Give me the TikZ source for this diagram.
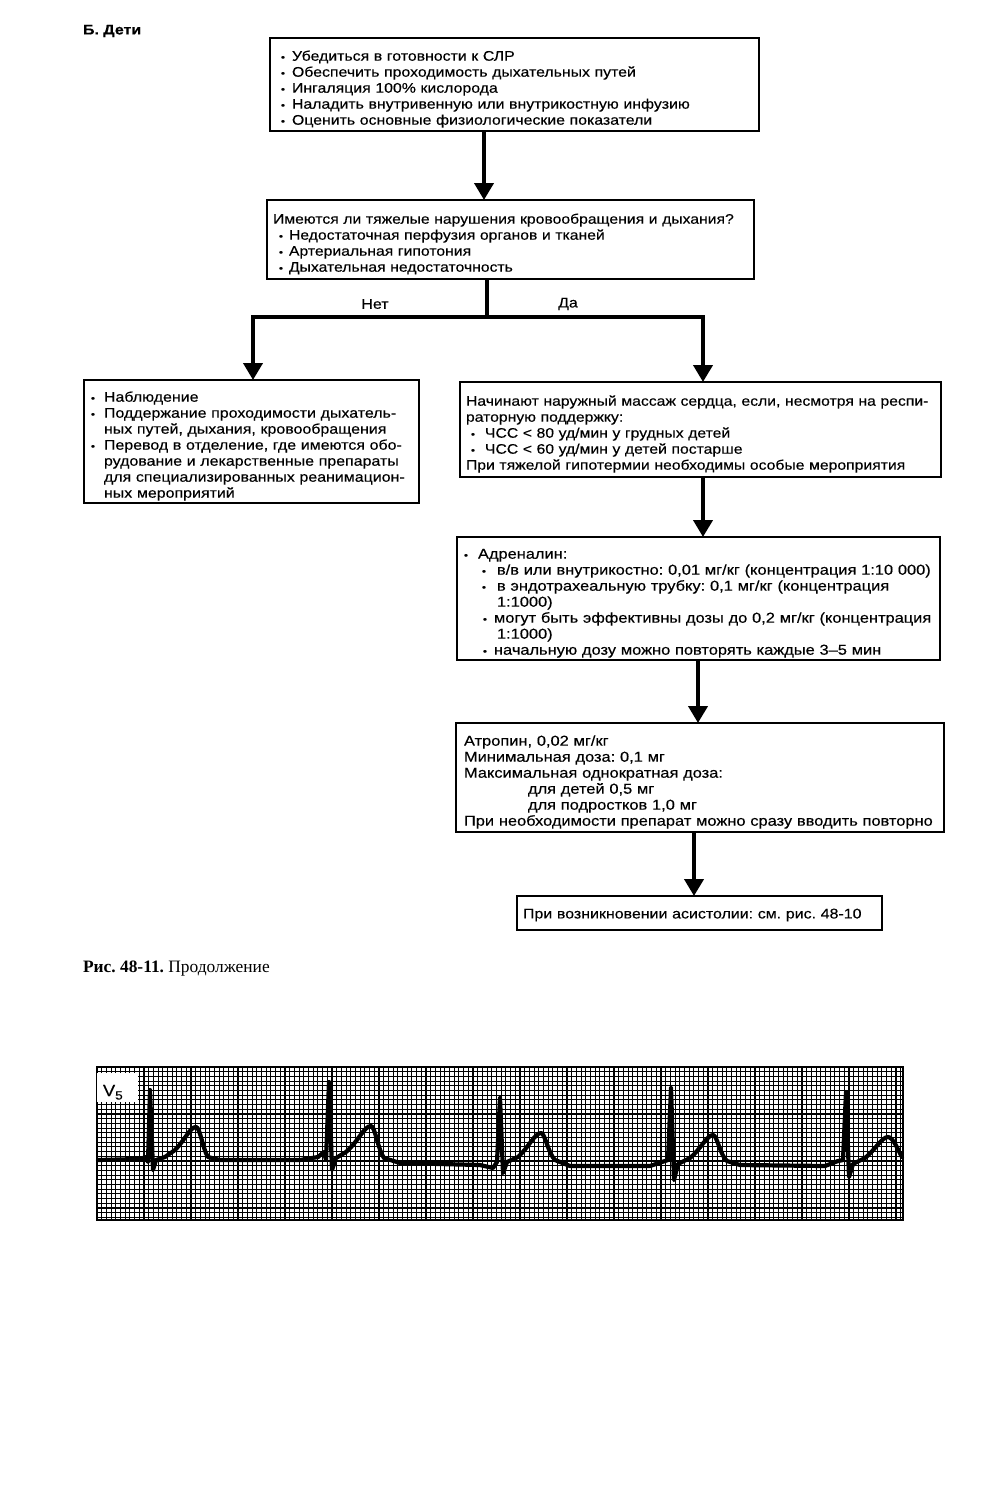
\documentclass[tikz,border=0pt]{standalone}
\usepackage{fontspec}
\setmainfont{Liberation Sans}
\newfontfamily\boxfont[FakeStretch=1.14,FakeBold=0.3]{Liberation Sans}
\newfontfamily\capfont{Liberation Serif}
\usetikzlibrary{arrows.meta}
\frenchspacing
\newcommand\boxtxt{\boxfont\fontsize{14}{16}\selectfont\frenchspacing}
\newcommand\fbul[1][11pt]{\makebox[#1][l]{{\fontsize{10}{10}\selectfont •}}}
\newcommand\boxlines[1]{\raisebox{-5pt}[\height][\depth]{\begin{tabular}{@{}l@{}}#1\end{tabular}}}
\begin{document}
\begin{tikzpicture}[x=1pt,y=-1pt,
  every node/.style={outer sep=0pt},
  box/.style={draw, line width=1.3pt, anchor=north west, align=left, inner ysep=0pt, font=\boxtxt},
  conn/.style={line width=4pt},
  arr/.style={line width=4pt, -{Triangle[width=19pt,length=17pt]}},
  lbl/.style={font=\boxtxt, inner sep=0pt},
  gridminor/.style={line width=0.85pt},
  gridmajor/.style={line width=1.6pt},
  ecg/.style={line width=4.2pt, line join=round, line cap=round}]
\useasboundingbox (0,0) rectangle (998,1496);

% title
\node[anchor=west, inner sep=0pt, font={\boxfont\bfseries\fontsize{14}{16}\selectfont}] (title) at (83,31) {Б. Дети};

% boxes
\node[box, minimum width=489pt, minimum height=93pt, text width=467pt, inner xsep=11pt, font={\boxfont\fontsize{13.9}{16}\selectfont}] (b1) at (270,38) {%
\boxlines{%
\fbul Убедиться в готовности к СЛР\\
\fbul Обеспечить проходимость дыхательных путей\\
\fbul Ингаляция 100\% кислорода\\
\fbul Наладить внутривенную или внутрикостную инфузию\\
\fbul Оценить основные физиологические показатели}};

\node[box, minimum width=487pt, minimum height=79pt, text width=475pt, inner xsep=6pt, font={\boxfont\fontsize{13.8}{16}\selectfont}] (b2) at (267,200) {%
\boxlines{%
Имеются ли тяжелые нарушения кровообращения и дыхания?\\
\hspace*{6pt}\fbul[10pt]Недостаточная перфузия органов и тканей\\
\hspace*{6pt}\fbul[10pt]Артериальная гипотония\\
\hspace*{6pt}\fbul[10pt]Дыхательная недостаточность}};

\node[box, minimum width=335pt, minimum height=123pt, text width=321pt, inner xsep=7pt] (b3) at (84,380) {%
\boxlines{%
\fbul[13pt]Наблюдение\\
\fbul[13pt]Поддержание проходимости дыхатель-\\
\hspace*{13pt}ных путей, дыхания, кровообращения\\
\fbul[13pt]Перевод в отделение, где имеются обо-\\
\hspace*{13pt}рудование и лекарственные препараты\\
\hspace*{13pt}для специализированных реанимацион-\\
\hspace*{13pt}ных мероприятий}};

\node[box, minimum width=481pt, minimum height=95pt, text width=469pt, inner xsep=6pt, font={\boxfont\fontsize{13.8}{16}\selectfont}] (b4) at (460,382) {%
\boxlines{%
Начинают наружный массаж сердца, если, несмотря на респи-\\
раторную поддержку:\\
\hspace*{5pt}\fbul[14pt]ЧСС < 80 уд/мин у грудных детей\\
\hspace*{5pt}\fbul[14pt]ЧСС < 60 уд/мин у детей постарше\\
При тяжелой гипотермии необходимы особые мероприятия}};

\node[box, minimum width=483pt, minimum height=123pt, text width=469pt, inner xsep=7pt, font={\boxfont\fontsize{14.4}{16}\selectfont}] (b5) at (457,537) {%
\boxlines{%
\fbul[14pt]Адреналин:\\
\hspace*{18pt}\fbul[15pt]в/в или внутрикостно: 0,01 мг/кг (концентрация 1:10 000)\\
\hspace*{18pt}\fbul[15pt]в эндотрахеальную трубку: 0,1 мг/кг (концентрация\\
\hspace*{33pt}1:1000)\\
\hspace*{19pt}\fbul[11pt]могут быть эффективны дозы до 0,2 мг/кг (концентрация\\
\hspace*{33pt}1:1000)\\
\hspace*{19pt}\fbul[11pt]начальную дозу можно повторять каждые 3–5 мин}};

\node[box, minimum width=488pt, minimum height=109pt, text width=472pt, inner xsep=8pt, font={\boxfont\fontsize{14.4}{16}\selectfont}] (b6) at (456,723) {%
\boxlines{%
Атропин, 0,02 мг/кг\\
Минимальная доза: 0,1 мг\\
Максимальная однократная доза:\\
\hspace*{64pt}для детей 0,5 мг\\
\hspace*{64pt}для подростков 1,0 мг\\
При необходимости препарат можно сразу вводить повторно}};

\node[box, minimum width=365pt, minimum height=34pt, text width=353pt, inner xsep=6pt] (b7) at (517,896) {\raisebox{-2pt}[\height][\depth]{При возникновении асистолии: см. рис. 48-10}};

% connectors
\coordinate (x1) at (484,0);
\coordinate (j) at (487,317);
\coordinate (jl) at (253,317);
\coordinate (jr) at (703,317);
\coordinate (x5) at (703,0);
\coordinate (x6) at (698,0);
\coordinate (x7) at (694,0);

\draw[arr] (b1.south -| x1) -- (b2.north -| x1);
\draw[conn] (b2.south -| j) -- (j);
\draw[conn, line cap=rect] (jl) -- (jr);
\draw[arr] (jl) -- (b3.north -| jl);
\draw[arr] (jr) -- (b4.north -| jr);
\draw[arr] (b4.south -| x5) -- (b5.north -| x5);
\draw[arr] (b5.south -| x6) -- (b6.north -| x6);
\draw[arr] (b6.south -| x7) -- (b7.north -| x7);

\node[lbl] (no) at (375,304) {Нет};
\node[lbl] (yes) at (568,304) {Да};

% caption
\node[anchor=base west, inner sep=0pt, font={\capfont\fontsize{17.4}{19}\selectfont}] (cap) at (83,972) {\textbf{Рис. 48-11.} Продолжение};

% ECG strip
\foreach \i in {0,...,171} {\draw[gridminor] ({97+\i*4.7},1067) -- ({97+\i*4.7},1220);}
\foreach \i in {0,...,32} {\draw[gridminor] (97,{1067+\i*4.7}) -- (903,{1067+\i*4.7});}
\foreach \i in {0,...,34} {\draw[gridmajor] ({97+\i*23.5},1067) -- ({97+\i*23.5},1220);}
\foreach \i in {0,...,6} {\draw[gridmajor] (97,{1067+\i*23.5}) -- (903,{1067+\i*23.5});}
\draw[gridmajor] (97,1067) rectangle (903,1220);
\node[fill=white, anchor=north west, inner sep=0pt, minimum width=41pt, minimum height=29pt] (v5box) at (97,1073) {};
\node[anchor=base west, inner sep=0pt, font={\boxfont\fontsize{16}{18}\selectfont}] (v5) at (103,1096) {V\raisebox{-3.5pt}{\fontsize{12}{12}\selectfont 5}};

\draw[ecg] (98,1160) -- (140,1159) -- (146,1157) -- (148,1162) -- (150,1090) -- (153,1170) -- (156,1160) -- (165,1157) -- (175,1150)
  .. controls (185,1140) and (190,1127) .. (196,1127)
  .. controls (200,1127) and (203,1150) .. (208,1157) -- (220,1160) -- (300,1160) -- (318,1157) -- (324,1152) -- (326,1160)
  -- (329,1082) -- (332,1170) -- (336,1158) -- (346,1152)
  .. controls (358,1142) and (364,1126) .. (371,1126)
  .. controls (375,1126) and (378,1150) .. (384,1158) -- (400,1163) -- (480,1165) -- (493,1168) -- (497,1162)
  -- (500,1098) -- (503,1173) -- (507,1162) -- (518,1157)
  .. controls (528,1148) and (535,1133) .. (541,1133)
  .. controls (545,1133) and (548,1153) .. (555,1160) -- (570,1166) -- (650,1166) -- (662,1162) -- (668,1160)
  -- (671,1088) -- (674,1180) -- (678,1164) -- (690,1158)
  .. controls (700,1150) and (707,1135) .. (713,1135)
  .. controls (717,1135) and (720,1155) .. (727,1161) -- (740,1165) -- (825,1166) -- (838,1161) -- (843,1160)
  -- (846,1092) -- (849,1177) -- (853,1164) -- (865,1158)
  .. controls (875,1150) and (882,1137) .. (888,1137)
  .. controls (893,1137) and (898,1150) .. (902,1157);
\end{tikzpicture}
\end{document}
